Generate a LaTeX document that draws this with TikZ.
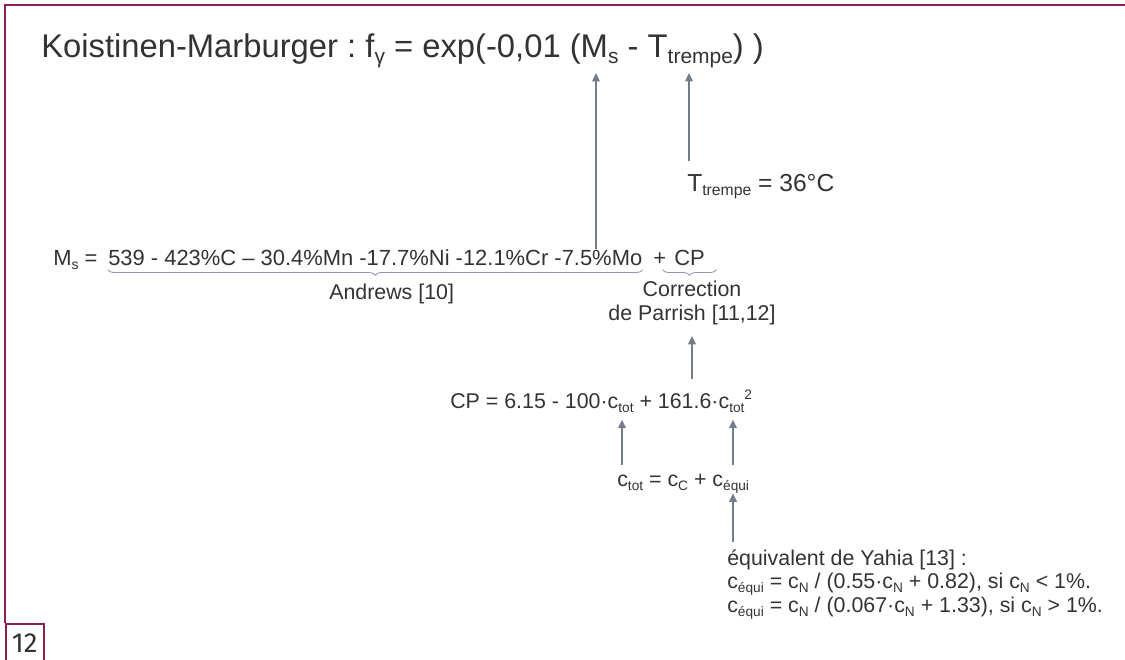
\documentclass[tikz,border=0pt]{standalone}
\usepackage{fontspec}
\setmainfont{Liberation Sans}
\newfontfamily\pagefont{Fira Sans}
\usepackage{xcolor}
\usetikzlibrary{arrows.meta,calc,decorations.pathreplacing}
\definecolor{framecol} {HTML}{8B1E52}
\definecolor{ink}      {HTML}{333333}
\definecolor{arrowcol} {HTML}{737D8C}
\definecolor{bracecol} {HTML}{8E97A5}
\makeatletter
\newcommand{\smallfs}{\fontsize{\the\dimexpr0.64\dimexpr\f@size pt\relax\relax}{0pt}\selectfont}
\makeatother
\newcommand{\lo}[1]{\raisebox{-0.2em}{\smallfs #1}}
\newcommand{\hi}[1]{\raisebox{0.42em}{\smallfs #1}}
\newcommand{\Ms}{M\lo{s}}
\newcommand{\Ttr}{T\lo{trempe}}
\newcommand{\ctot}{c\lo{tot}}
\newcommand{\cequi}{c\lo{équi}}
\newcommand{\cN}{c\lo{N}}
\frenchspacing
\tikzset{
  txt/.style={inner sep=0pt,text=ink,anchor=base west,font=\fontsize{15.2}{16.6}\selectfont},
  up/.style={draw=arrowcol,line width=1pt,-{Triangle[width=5.5pt,length=6pt]}},
  brc/.style={draw=bracecol,line width=0.6pt,decorate,decoration={brace,mirror,amplitude=4pt}}
}

\begin{document}
\begin{tikzpicture}[x=0.025cm,y=-0.025cm]
  \useasboundingbox (0,0) rectangle (1125,659);
  % frame and page number
  \draw[framecol,line width=1.1pt] (1125,5) -- (5,5) -- (5,623);
  \node[draw=framecol,line width=1.1pt,anchor=north west,inner sep=0pt,
        minimum width=0.95cm,minimum height=0.975cm,text=ink,
        font=\pagefont\fontsize{19.6}{20}\selectfont] (page) at (5,623) {12};

  % formula and its pieces
  \node[txt,font=\fontsize{23.3}{28}\selectfont] (title) at (41,57)
    {Koistinen-Marburger : f\lo{γ} = exp(-0,01 (\Ms{} - \Ttr) )};
  \node[txt,font=\fontsize{17.5}{21}\selectfont] (tt) at (687,191) {\Ttr{} = 36°C};

  \node[txt,font=\fontsize{15.6}{17}\selectfont] (msl) at (53,265) {\Ms{} =};
  \node[txt,font=\fontsize{15.6}{17}\selectfont] (andr) at (108,265)
    {539 - 423\%C – 30.4\%Mn -17.7\%Ni -12.1\%Cr -7.5\%Mo};
  \node[txt,font=\fontsize{15.6}{17}\selectfont] (plus) at (653,265) {+};
  \node[txt,font=\fontsize{15.6}{17}\selectfont] (cp) at (674,265) {CP};
  \draw[brc] ([yshift=-3pt]andr.south west) -- ([yshift=-3pt]andr.south east);
  \draw[brc] ([xshift=-8pt,yshift=-3pt]cp.south west) -- ([xshift=8pt,yshift=-3pt]cp.south east);
  \node[txt] (andrlbl) at (329,299) {Andrews [10]};
  \node[txt,anchor=base,align=center] (corr) at (692,320) {Correction\\de Parrish [11,12]};

  \node[txt] (cpeq) at (450,408)
    {CP = 6.15 - 100·\ctot{} + 161.6·\ctot\hi{2}};
  \node[txt] (ctot) at (617,486) {\ctot{} = c\lo{C} + \cequi};
  \node[txt,align=left] (yahia) at (727,612)
    {équivalent de Yahia [13] :\\
     \cequi{} = \cN{} / (0.55·\cN{} + 0.82), si \cN{} < 1\%.\\
     \cequi{} = \cN{} / (0.067·\cN{} + 1.33), si \cN{} > 1\%.};

  % arrows
  \coordinate (msx) at (596,73);
  \coordinate (ttx) at (689,73);
  \coordinate (tot1) at (622,420);
  \coordinate (tot2) at (733,420);
  \draw[up] (andr.north -| msx) -- (msx);
  \draw[up] ($(tt.north -| ttx)+(0,-13)$) -- (ttx);
  \draw[up,shorten <=7pt,shorten >=8pt] (cpeq.north -| corr.south) -- (corr.south);
  \draw[up,shorten <=6pt,shorten >=5pt] (ctot.north -| tot1) -- (cpeq.south -| tot1);
  \draw[up,shorten <=6pt,shorten >=5pt] (ctot.north -| tot2) -- (cpeq.south -| tot2);
  \draw[up,shorten <=5pt] (yahia.north -| tot2) -- (ctot.south -| tot2);
\end{tikzpicture}
\end{document}
